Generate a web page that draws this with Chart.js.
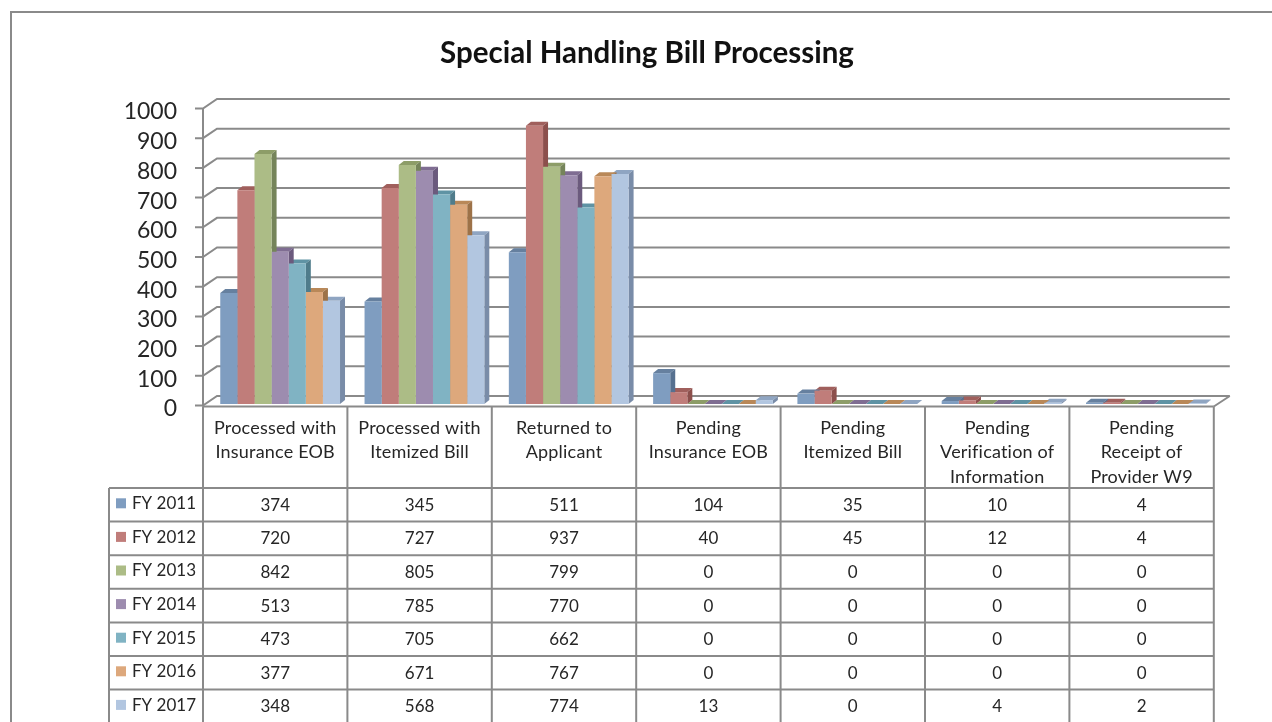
<!DOCTYPE html>
<html>
<head>
<meta charset="utf-8">
<title>Special Handling Bill Processing</title>
<script src="https://cdn.jsdelivr.net/npm/chart.js@4"></script>
<style>
  html, body { margin: 0; padding: 0; background: #fff; overflow: hidden; width: 1272px; height: 722px; }
  canvas { display: block; }
</style>
</head>
<body>
<canvas id="myChart" width="1272" height="722"></canvas>
<script>
const categories = [
  ["Processed with", "Insurance EOB"],
  ["Processed with", "Itemized Bill"],
  ["Returned to", "Applicant"],
  ["Pending", "Insurance EOB"],
  ["Pending", "Itemized Bill"],
  ["Pending", "Verification of", "Information"],
  ["Pending", "Receipt of", "Provider W9"],
];
const seriesNames = ["FY 2011", "FY 2012", "FY 2013", "FY 2014", "FY 2015", "FY 2016", "FY 2017"];
const fy2011 = [374, 345, 511, 104, 35, 10, 4];
const fy2012 = [720, 727, 937, 40, 45, 12, 4];
const fy2013 = [842, 805, 799, 0, 0, 0, 0];
const fy2014 = [513, 785, 770, 0, 0, 0, 0];
const fy2015 = [473, 705, 662, 0, 0, 0, 0];
const fy2016 = [377, 671, 767, 0, 0, 0, 0];
const fy2017 = [348, 568, 774, 13, 0, 4, 2];
const seriesValues = [fy2011, fy2012, fy2013, fy2014, fy2015, fy2016, fy2017];

const faceColors = ["#7f9dc0", "#c07d7a", "#acbc86", "#9d8caf", "#80b3c3", "#dda87c", "#b2c6e0"];
const topColors = ["#66809f", "#a05f5c", "#8d9d68", "#7f6d92", "#5f93a4", "#b98858", "#8fa5c2"];
const sideColors = ["#56708f", "#8c4f4c", "#75845a", "#6b5a7d", "#4f7c8b", "#9d7248", "#798ca8"];

const lineColor = "#8a8a8a";
const textColor = "#262626";
const fontName = "Lato, 'Open Sans', sans-serif";

// fake Excel 3D look
const depthX = 5;
const depthY = 4;
const wallX = 14;
const wallY = 8;

// data table under the plot
const tableLeft = 109;
const tableX = 203;
const colW = 144.4;
const tableTop = 406.5;
const headerBottom = 488;
const rowH = 33.6;

const walls = {
  id: "walls",
  beforeDatasetsDraw(chart) {
    const c = chart.ctx;
    const y = chart.scales.y;
    const right = tableX + colW * categories.length;
    c.save();
    c.strokeStyle = lineColor;
    c.lineWidth = 2;
    y.ticks.forEach((t) => {
      const py = y.getPixelForValue(t.value);
      c.beginPath();
      c.moveTo(195, py + 1.5);
      c.lineTo(tableX, py + 1.5);
      c.lineTo(tableX + wallX, py - wallY);
      c.lineTo(right + wallX + 2, py - wallY);
      c.stroke();
    });
    c.beginPath();
    c.moveTo(tableX, y.getPixelForValue(1000) + 1.5);
    c.lineTo(tableX, tableTop);
    c.moveTo(right, tableTop);
    c.lineTo(right + wallX + 2, y.getPixelForValue(0) - wallY);
    c.stroke();
    c.restore();

    // sides and tops under all the faces, last series first so that an
    // earlier, taller bar's side covers the top of the bar next to it
    for (let i = seriesNames.length - 1; i >= 0; i--) {
      chart.getDatasetMeta(i).data.forEach((bar) => {
        const half = bar.width / 2;
        const l = bar.x - half;
        const r = bar.x + half;
        c.fillStyle = topColors[i];
        c.beginPath();
        c.moveTo(l, bar.y);
        c.lineTo(l + depthX, bar.y - depthY);
        c.lineTo(r + depthX, bar.y - depthY);
        c.lineTo(r, bar.y);
        c.closePath();
        c.fill();
        c.fillStyle = sideColors[i];
        c.beginPath();
        c.moveTo(r, bar.y);
        c.lineTo(r + depthX, bar.y - depthY);
        c.lineTo(r + depthX, bar.base - depthY);
        c.lineTo(r, bar.base);
        c.closePath();
        c.fill();
      });
    }
  },
  afterDraw(chart) {
    const c = chart.ctx;
    const right = tableX + colW * categories.length;
    c.save();
    c.strokeStyle = lineColor;
    c.lineWidth = 2;

    // outer chart frame
    c.beginPath();
    c.moveTo(11, 722);
    c.lineTo(11, 12);
    c.lineTo(1272, 12);
    c.stroke();

    // table grid
    c.beginPath();
    c.moveTo(tableX, tableTop);
    c.lineTo(right, tableTop);
    for (let k = 0; k <= categories.length; k++) {
      c.moveTo(tableX + colW * k, tableTop);
      c.lineTo(tableX + colW * k, 722);
    }
    c.moveTo(tableLeft, headerBottom);
    c.lineTo(tableLeft, 722);
    seriesNames.forEach((n, r) => {
      const ly = headerBottom + rowH * r;
      c.moveTo(tableLeft, ly);
      c.lineTo(right, ly);
    });
    c.stroke();

    // header text
    c.fillStyle = textColor;
    c.font = "18px " + fontName;
    c.letterSpacing = "0.2px";
    c.textAlign = "center";
    c.textBaseline = "middle";
    categories.forEach((lines, k) => {
      lines.forEach((s, n) => {
        c.fillText(s, tableX + colW * (k + 0.5), 428 + n * 24.4);
      });
    });

    // rows with legend keys
    c.font = "17px " + fontName;
    c.letterSpacing = "0px";
    seriesNames.forEach((name, r) => {
      const cy = headerBottom + rowH * (r + 0.5) + 0.5;
      c.fillStyle = faceColors[r];
      c.fillRect(116, cy - 7, 10, 10);
      c.fillStyle = textColor;
      c.textAlign = "left";
      c.fillText(name, 132, cy - 1.5);
      c.textAlign = "center";
      seriesValues[r].forEach((v, k) => {
        c.fillText(String(v), tableX + colW * (k + 0.5), cy);
      });
    });
    c.restore();
  },
};

new Chart(document.getElementById("myChart"), {
  type: "bar",
  data: {
    labels: categories,
    datasets: seriesNames.map((name, i) => ({
      label: name,
      data: seriesValues[i],
      backgroundColor: faceColors[i],
      borderWidth: 0,
      barPercentage: 1,
      categoryPercentage: 0.83,
    })),
  },
  options: {
    responsive: false,
    animation: false,
    layout: { padding: { left: 76, right: 54, top: 0, bottom: 318 } },
    plugins: {
      legend: { display: false },
      tooltip: { enabled: false },
      title: {
        display: true,
        text: "Special Handling Bill Processing",
        color: "#111",
        font: { family: fontName, size: 29.5, weight: "bold", lineHeight: 1.2 },
        padding: { top: 35.3, bottom: 36.3 },
      },
    },
    scales: {
      x: { display: false },
      y: {
        min: 0,
        max: 1000,
        afterFit(scale) {
          scale.width = 132;
        },
        border: { display: false },
        grid: { display: false, drawTicks: false },
        ticks: {
          stepSize: 100,
          autoSkip: false,
          padding: 31,
          labelOffset: 5,
          color: textColor,
          font: { family: fontName, size: 23 },
          callback: (v) => String(v),
        },
      },
    },
  },
  plugins: [walls],
});
</script>
</body>
</html>
